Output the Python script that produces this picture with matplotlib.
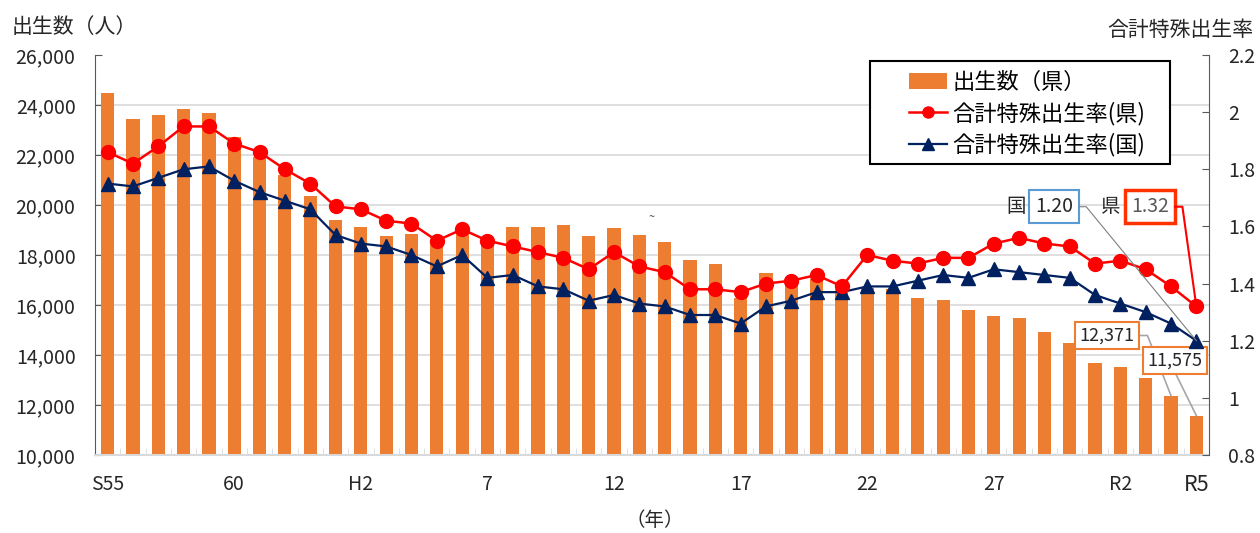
import numpy as np
import matplotlib
matplotlib.use("Agg")
import matplotlib.pyplot as plt
from matplotlib.patches import Patch, Rectangle
from matplotlib.lines import Line2D

plt.rcParams['font.family'] = ['Noto Sans CJK JP', 'DejaVu Sans']

# -----------------------------
# データ
# -----------------------------
years = ['S55', '56', '57', '58', '59', '60', '61', '62', '63',
         'H1', 'H2', '3', '4', '5', '6', '7', '8', '9', '10', '11', '12', '13', '14', '15', '16',
         '17', '18', '19', '20', '21', '22', '23', '24', '25', '26', '27', '28', '29', '30',
         'R1', 'R2', '3', '4', 'R5']

births = [24470, 23430, 23600, 23840, 23670, 22730, 21930, 21200, 20370, 19400,
          19110, 18760, 18840, 18500, 19000, 18600, 19130, 19130, 19210, 18760,
          19070, 18800, 18510, 17790, 17640, 16300, 17290, 17000, 17050, 16650,
          16700, 16640, 16270, 16200, 15810, 15560, 15470, 14910, 14480, 13670,
          13510, 13080, 12371, 11575]

tfr_pref = [1.86, 1.82, 1.88, 1.95, 1.95, 1.89, 1.86, 1.80, 1.75, 1.67,
            1.66, 1.62, 1.61, 1.55, 1.59, 1.55, 1.53, 1.51, 1.49, 1.45,
            1.51, 1.46, 1.44, 1.38, 1.38, 1.37, 1.40, 1.41, 1.43, 1.39,
            1.50, 1.48, 1.47, 1.49, 1.49, 1.54, 1.56, 1.54, 1.53, 1.47,
            1.48, 1.45, 1.39, 1.32]

tfr_nation = [1.75, 1.74, 1.77, 1.80, 1.81, 1.76, 1.72, 1.69, 1.66, 1.57,
              1.54, 1.53, 1.50, 1.46, 1.50, 1.42, 1.43, 1.39, 1.38, 1.34,
              1.36, 1.33, 1.32, 1.29, 1.29, 1.26, 1.32, 1.34, 1.37, 1.37,
              1.39, 1.39, 1.41, 1.43, 1.42, 1.45, 1.44, 1.43, 1.42, 1.36,
              1.33, 1.30, 1.26, 1.20]

tick_idx = [0, 5, 10, 15, 20, 25, 30, 35, 40, 43]
tick_labels = ['S55', '60', 'H2', '7', '12', '17', '22', '27', 'R2', 'R5']

left_ticks = [10000, 12000, 14000, 16000, 18000, 20000, 22000, 24000, 26000]
right_ticks = [0.8, 1.0, 1.2, 1.4, 1.6, 1.8, 2.0, 2.2]
right_labels = ['0.8', '1', '1.2', '1.4', '1.6', '1.8', '2', '2.2']

ORANGE = '#ED7D31'
RED = '#FF0000'
NAVY = '#002060'

# -----------------------------
# 描画
# -----------------------------
fig = plt.figure(figsize=(12.6, 5.33), dpi=100)
ax = fig.add_axes([95 / 1260, 78 / 533, 1114 / 1260, 400 / 533])
x = np.arange(len(years))

ax.bar(x, births, width=0.52, color=ORANGE, zorder=2)
ax.set_xlim(-0.5, len(years) - 0.5)
ax.set_ylim(10000, 26000)
ax.set_yticks(left_ticks)
ax.set_yticklabels([f'{v:,}' for v in left_ticks], fontsize=14, color='#262626')
for v in left_ticks[1:-1]:
    ax.axhline(v, color='#D9D9D9', lw=1.2, zorder=1)

ax.set_xticks(tick_idx)
ax.set_xticklabels(tick_labels, fontsize=14, color='#262626')
ax.get_xticklabels()[-1].set_fontsize(15.5)
ax.set_xticks(np.arange(len(years) + 1) - 0.5, minor=True)
ax.tick_params(axis='x', which='major', length=0, pad=14)
ax.tick_params(axis='x', which='minor', length=5, direction='in', color='#D9D9D9')
ax.tick_params(axis='y', length=5, direction='in', color='#595959', pad=14)

for s in ['top', 'right']:
    ax.spines[s].set_visible(False)
ax.spines['left'].set_color('#595959')
ax.spines['bottom'].set_color('#D9D9D9')
ax.spines['bottom'].set_linewidth(1.5)

ax2 = ax.twinx()
ax2.plot(x, tfr_pref, color=RED, lw=1.8, marker='o', ms=10, zorder=4)
ax2.plot(x, tfr_nation, color=NAVY, lw=1.6, marker='^', ms=10, zorder=3)
ax2.set_ylim(0.8, 2.2)
ax2.set_yticks(right_ticks)
ax2.set_yticklabels(right_labels, fontsize=14, color='#262626')
ax2.tick_params(axis='y', length=5, direction='in', color='#595959', pad=14)
for s in ['top', 'left', 'bottom']:
    ax2.spines[s].set_visible(False)
ax2.spines['right'].set_color('#595959')

# 軸ラベル
fig.text(12 / 1260, 1 - 27 / 533, '出生数（人）', fontsize=15, va='center', ha='left', color='#262626')
fig.text(1253 / 1260, 1 - 30 / 533, '合計特殊出生率', fontsize=15, va='center', ha='right', color='#262626')
fig.text(655 / 1260, 1 - 521 / 533, '（年）', fontsize=14, va='center', ha='center', color='#262626')
ax.text(21.5, 19520, '~', fontsize=8, ha='center', va='center', color='#404040')

# 凡例（枠は別に描く）
ax2.add_patch(Rectangle((0.6957, 0.7275), 0.2693, 0.2575, transform=ax2.transAxes,
                        fc='white', ec='black', lw=1.5, zorder=9))
handles = [Patch(facecolor=ORANGE, edgecolor='none'),
           Line2D([], [], color=RED, lw=1.8, marker='o', ms=8),
           Line2D([], [], color=NAVY, lw=1.6, marker='^', ms=8)]
labels = ['出生数（県）', '合計特殊出生率(県)', '合計特殊出生率(国)']
leg = ax2.legend(handles, labels, loc='upper left', bbox_to_anchor=(0.7307, 0.96),
                 fontsize=16, frameon=False, handlelength=1.7,
                 handletextpad=0.25, labelspacing=0.34, borderpad=0, borderaxespad=0)
leg.set_zorder(10)

# 注記（国・県）
ax2.text(35.87, 1.669, '国', fontsize=14, ha='center', va='center', color='#262626')
ax2.text(37.39, 1.669, f'{tfr_nation[-1]:.2f}', fontsize=14, ha='center', va='center', color='#262626',
         bbox=dict(boxstyle='square,pad=0.3', fc='white', ec='#5B9BD5', lw=1.5))
ax2.plot([38.37, 38.65, x[-1]], [1.669, 1.669, tfr_nation[-1]], color='#7F7F7F', lw=0.8, zorder=5, clip_on=False)

ax2.text(39.63, 1.669, '県', fontsize=14, ha='center', va='center', color='#262626')
ax2.text(41.16, 1.669, f'{tfr_pref[-1]:.2f}', fontsize=14, ha='center', va='center', color='#595959',
         bbox=dict(boxstyle='square,pad=0.3', fc='white', ec='#FF3300', lw=2.5))
ax2.plot([42.16, 42.45, x[-1]], [1.669, 1.669, tfr_pref[-1]], color=RED, lw=1.5, zorder=5, clip_on=False)

# 注記（出生数）
ax.text(39.46, 14780, f'{births[-2]:,}', fontsize=13, ha='center', va='center', color='#262626', zorder=6,
        bbox=dict(boxstyle='square,pad=0.25', fc='white', ec=ORANGE, lw=1.5))
ax.plot([40.67, 41.07, x[-2]], [14780, 14780, births[-2]], color='#A6A6A6', lw=1.2, zorder=5)
ax.text(42.14, 13787, f'{births[-1]:,}', fontsize=13, ha='center', va='center', color='#262626', zorder=6,
        bbox=dict(boxstyle='square,pad=0.25', fc='white', ec=ORANGE, lw=1.5))
ax.plot([42.19, x[-1]], [13240, births[-1]], color='#A6A6A6', lw=1.2, zorder=5)

fig.savefig('out.png', dpi=100)
